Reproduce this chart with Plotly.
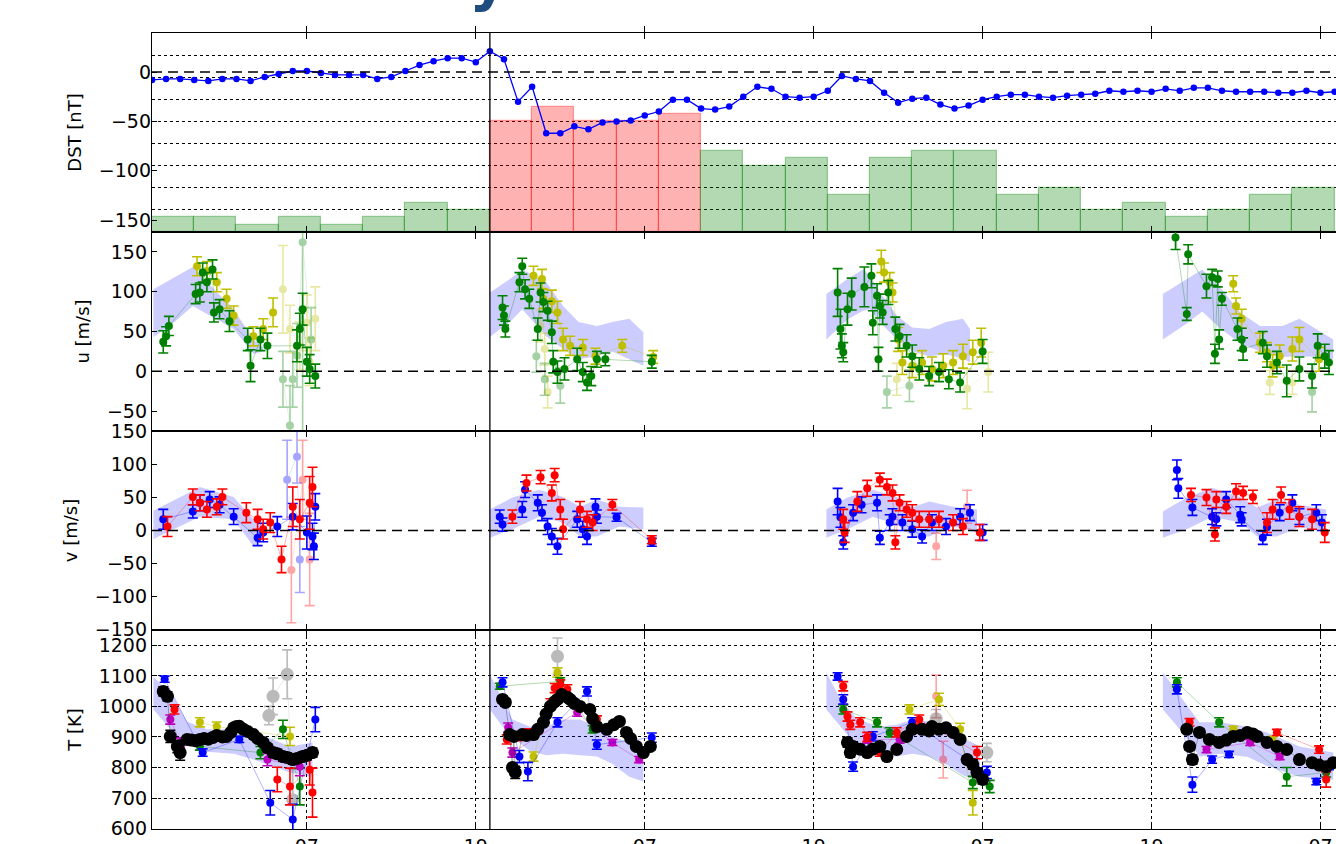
import plotly.graph_objects as go
from plotly.subplots import make_subplots

# ---------------------------------------------------------------- data
# time axis: hours counted from 00:00 of the first day
HOUR_TICKS = [31, 43, 55, 67, 79, 91, 103]
HOUR_LABELS = ["07", "19", "07", "19", "07", "19", "07"]
STORM_ONSET = 44

# hourly Dst index
DST_T = list(range(20, 105))
DST = [-8, -7, -7, -8, -9, -7, -7, -9, -5, -2, 1, 1, -1, -3, -3, -3, -7, -5, 1, 7, 11, 14, 14, 10,
       21, 13, -30, -15, -62, -62, -55, -58, -51, -50, -49, -44, -40, -28, -28, -37, -38, -35, -25,
       -15, -17, -25, -26, -25, -19, -4, -7, -9, -21, -31,
       -27, -26, -33, -37, -34, -28, -25, -23, -23, -25, -26, -24, -23, -22, -19, -20, -19, -20, -17,
       -19, -16, -16, -19, -20, -20, -20, -21, -21, -19, -21, -20]

# 3-hourly Kp index (bins start at these hours)
KP_START = list(range(20, 104, 3))
KP = [0.67, 0.67, 0.33, 0.67, 0.33, 0.67, 1.33, 1.0, 5.0, 5.67, 5.0, 5.0, 5.33, 3.67, 3.0, 3.33,
      1.67, 3.33, 3.67, 3.67, 1.67, 2.0, 1.0, 1.33, 0.67, 1.0, 1.67, 2.0]

# model envelopes (lower / upper) per night
U_BAND_T = [20.1, 21.6, 22.9, 24.3, 25.8, 27.2, 27.9,
            44.0, 45.6, 46.3, 48.0, 49.2, 50.3, 51.6, 52.7, 53.9, 54.9,
            67.9, 69.4, 70.5, 71.0, 71.7, 72.9, 74.0, 75.2, 76.4, 77.6, 78.1,
            91.8, 93.5, 94.6, 95.8, 97.3, 98.7, 100.3, 101.5, 102.7, 103.9]
U_BAND_HI = [103, 118, 131, 105, 78, 40, 30,
             99, 118, 128, 112, 82, 62, 57, 62, 66, 49,
             97, 116, 128, 120, 99, 70, 55, 53, 62, 66, 53,
             97, 116, 128, 107, 74, 57, 57, 66, 53, 40]
U_BAND_LO = [43, 62, 82, 68, 53, 22, 25,
             43, 65, 78, 44, 28, 15, 19, 25, 15, 7,
             40, 65, 76, 78, 62, 40, 25, 19, 21, 16, 11,
             40, 60, 75, 55, 35, 25, 18, 19, 18, 15]

V_BAND_T = [20.1, 21.5, 23.4, 25.8, 27.2, 27.9,
            44.0, 45.6, 47.5, 49.2, 50.4, 51.6, 53.2, 54.9,
            67.9, 69.4, 71.2, 72.9, 74.0, 75.2, 76.9, 78.6,
            91.8, 93.5, 95.3, 97.3, 98.5, 99.9, 101.5, 103.4]
V_BAND_HI = [30, 45, 66, 51, 17, 8,
             32, 50, 62, 51, 36, 47, 36, 35,
             32, 50, 62, 51, 35, 44, 36, 32,
             29, 50, 65, 51, 35, 47, 39, 32]
V_BAND_LO = [-13, 2, 21, 17, -24, -8,
             -11, 2, 21, 12, -9, -9, 6, 2,
             -11, 2, 21, 9, -9, -9, 6, -3,
             -11, 2, 21, 12, -9, -9, 5, -3]

T_BAND_T = [20.1, 21.5, 22.5, 23.9, 25.8, 27.2, 28.6, 29.8, 31.4,
            44.0, 44.9, 45.6, 46.8, 48.0, 49.2, 50.4, 51.6, 52.7, 53.9, 54.9,
            67.9, 68.9, 70.1, 71.7, 72.9, 74.0, 75.2, 76.4, 77.6, 78.8,
            91.8, 93.2, 94.4, 95.8, 97.8, 99.2, 101.5, 103.9]
T_BAND_HI = [1098, 1030, 950, 925, 925, 915, 892, 869, 882,
             1105, 1023, 957, 934, 934, 957, 957, 934, 902, 882, 869,
             1111, 1023, 957, 934, 940, 957, 950, 925, 895, 870,
             1111, 1023, 948, 948, 934, 915, 869, 849]
T_BAND_LO = [990, 915, 875, 852, 845, 826, 803, 784, 770,
             990, 934, 900, 855, 840, 845, 840, 836, 812, 770, 754,
             990, 934, 869, 849, 836, 845, 836, 810, 775, 754,
             990, 915, 835, 845, 835, 805, 770, 760]

# zonal wind u, two look directions
U_GREEN_T = [20.8, 21.0, 21.2, 23.1, 23.4, 23.6, 23.9, 24.3, 24.4, 24.8, 25.5, 26.8, 27.0, 27.7, 28.2,
             30.3, 30.5, 30.7, 31.0, 31.2, 31.6,
             44.9, 45.0, 45.1, 46.1, 46.3, 46.5, 46.8, 47.4, 47.6, 47.8, 48.1, 48.4, 48.5, 48.8, 49.3,
             50.2, 50.6, 50.9, 51.2, 51.6, 52.2, 55.5,
             68.7, 68.9, 69.0, 69.1, 69.4, 69.7, 70.6, 71.1, 71.2, 71.5, 71.6, 71.7, 71.9, 72.3, 72.8,
             73.1, 73.6, 74.0, 74.5, 75.2, 75.9, 76.6, 77.4, 79.0,
             92.7, 93.5, 93.6, 94.9, 95.3, 95.5, 95.7, 95.8, 96.0, 97.1, 97.4, 97.5, 98.9, 99.2, 99.9,
             100.6, 101.5, 102.4, 102.8, 103.3, 103.6]
U_GREEN = [37, 44, 57, 97, 99, 124, 112, 128, 74, 78, 63, 40, 7, 40, 32, 32, 53, 78, 12, 3, -6,
           80, 70, 53, 112, 132, 103, 91, 53, 99, 87, 76, 49, 12, -1, 3, 15, -1, -14, -6, 15, 15, 12,
           99, 53, 32, 24, 78, 97, 106, 120, 61, 95, 15, 82, 74, 99, 53, 44, 32, 19, 3, -6, -1, -10,
           -14, 25,
           168, 72, 147, 107, 118, 22, 116, 40, 91, 53, 40, 28, 36, 19, 11, -12, 3, -6, 32, 19, 11]
U_GREEN_ERR = [14, 12, 12, 12, 12, 12, 12, 12, 12, 12, 13, 14, 20, 14, 16, 20, 20, 20, 18, 18, 15,
               15, 12, 10, 12, 10, 12, 12, 14, 12, 12, 12, 14, 14, 14, 14, 14, 12, 10, 12, 10, 8, 8,
               30, 25, 15, 12, 20, 20, 25, 15, 15, 15, 15, 15, 15, 15, 15, 15, 14, 14, 14, 12, 12, 12,
               12, 15,
               15, 8, 12, 15, 10, 12, 10, 12, 8, 14, 14, 14, 14, 14, 14, 20, 15, 15, 15, 15, 15]
U_GREEN_FAINT_T = [29.3, 29.8, 30.0, 30.3, 30.7, 31.3, 47.3, 47.9, 49.0, 72.2, 73.8, 102.4]
U_GREEN_FAINT = [-10, -68, -10, 20, 162, 40, 19, -10, -18, -26, -18, -26]
U_GREEN_FAINT_ERR = [35, 50, 35, 40, 240, 40, 20, 20, 22, 20, 20, 25]

U_YELLOW_T = [23.2, 23.9, 24.6, 25.3, 25.8, 27.2, 27.9, 28.6,
              47.1, 47.7, 47.8, 48.4, 48.8, 49.2, 49.7, 50.6, 51.5, 53.4, 55.6,
              71.8, 72.0, 72.4, 72.6, 73.0, 73.3, 74.0, 74.7, 75.4, 76.2, 76.9, 77.6, 78.3, 78.9,
              96.8, 97.0, 97.4, 98.7, 99.2, 99.6, 100.1, 101.0, 101.5, 102.9]
U_YELLOW = [132, 126, 112, 91, 70, 44, 53, 74,
            120, 116, 91, 88, 74, 40, 32, 30, 19, 32, 18,
            138, 124, 112, 99, 40, 11, 7, 11, 3, 7, 11, 19, 24, 36,
            110, 82, 66, 36, 24, 7, 19, 28, 40, 15]
U_YELLOW_ERR = [12, 12, 12, 12, 12, 12, 13, 18,
                12, 12, 12, 14, 14, 14, 12, 10, 10, 8, 8,
                14, 12, 12, 12, 15, 15, 15, 15, 15, 15, 15, 15, 15, 18,
                10, 10, 12, 12, 12, 14, 14, 15, 15, 15]
U_YELLOW_FAINT_T = [29.3, 29.8, 30.5, 31.0, 31.2, 31.6, 47.6, 47.9, 48.1, 72.9, 77.9, 79.4, 99.4, 101.0]
U_YELLOW_FAINT = [103, 53, 32, 61, 12, 66, 57, 28, -26, -10, -22, -1, -14, -14]
U_YELLOW_FAINT_ERR = [55, 30, 30, 35, 30, 40, 20, 20, 20, 20, 25, 25, 15, 15]

# meridional wind v, two look directions
V_BLUE_T = [20.8, 22.9, 23.4, 24.1, 24.8, 25.8, 27.5, 27.9, 28.9, 30.0, 31.0, 31.4, 31.5, 31.6,
            44.7, 44.9, 46.3, 46.5, 47.4, 47.7, 48.1, 48.4, 48.8, 50.2, 50.6, 50.9, 51.5, 51.6, 53.0, 55.5,
            68.7, 68.9, 69.1, 69.8, 70.4, 71.5, 71.7, 72.4, 72.6, 73.3, 74.0, 74.7, 75.4, 76.4, 77.4, 78.1,
            79.0,
            92.8, 92.9, 93.9, 95.3, 95.6, 96.3, 97.3, 97.4, 98.9, 99.2, 100.1, 101.0, 101.5, 102.7, 103.1]
V_BLUE = [17, 29, 42, 47, 39, 21, -11, -3, 6, 21, -3, -9, -24, 36,
          21, 9, 32, 62, 42, 27, 6, -9, -24, 17, 2, -9, 36, 21, 20, -18,
          44, 20, -18, 27, 39, 42, -11, 12, 21, 12, 2, -9, 12, 6, 21, 27, -3,
          92, 64, 35, 21, 17, 47, 24, 17, -11, 5, 27, 42, 21, 27, 12]
V_BLUE_ERR = [15, 10, 12, 12, 12, 12, 12, 14, 15, 20, 25, 20, 20, 20,
              10, 10, 12, 12, 12, 12, 12, 12, 12, 12, 12, 12, 12, 10, 6, 6,
              20, 15, 10, 12, 12, 12, 10, 12, 12, 12, 12, 10, 12, 12, 12, 12, 12,
              15, 15, 12, 12, 10, 12, 12, 10, 10, 12, 12, 12, 12, 12, 12]
V_BLUE_FAINT_T = [29.6, 30.3, 30.5]
V_BLUE_FAINT = [77, 112, -44]
V_BLUE_FAINT_ERR = [60, 40, 50]

V_RED_T = [21.1, 22.9, 23.4, 23.9, 24.6, 25.0, 26.7, 27.5, 27.9, 28.4, 29.2, 30.0, 30.5, 31.2, 31.4,
           45.6, 46.6, 47.6, 48.4, 48.6, 49.0, 49.2, 50.4, 50.9, 51.3, 52.7, 55.5,
           69.1, 69.2, 70.1, 70.8, 71.7, 72.2, 72.6, 72.8, 73.1, 73.6, 74.0, 74.5, 75.2, 75.9, 76.9, 77.6,
           78.8,
           93.8, 94.9, 95.5, 95.6, 96.3, 97.0, 97.5, 98.2, 99.2, 99.6, 100.2, 100.8, 101.5, 102.4, 103.3]
V_RED = [6, 51, 42, 32, 36, 51, 27, 17, 2, 12, -44, 36, 17, 42, 66,
         21, 72, 81, 57, 84, 32, 2, 32, 17, 12, 39, -14,
         17, -3, 44, 64, 77, 66, 57, -18, 42, 32, 27, 17, 17, 17, 12, 6, -3,
         54, 50, -6, 47, 36, 59, 57, 51, 12, 32, 54, 32, 21, 17, -3]
V_RED_ERR = [15, 12, 12, 12, 12, 12, 15, 15, 15, 15, 20, 30, 30, 40, 30,
             10, 12, 10, 12, 10, 15, 15, 12, 12, 12, 8, 6,
             15, 15, 15, 12, 10, 12, 12, 10, 12, 12, 12, 12, 12, 12, 12, 12, 12,
             10, 12, 10, 12, 10, 12, 10, 10, 15, 15, 12, 15, 15, 15, 15]
V_RED_FAINT_T = [29.9, 30.7, 31.2, 75.7, 77.9]
V_RED_FAINT = [-60, 77, -44, -24, 36]
V_RED_FAINT_ERR = [80, 60, 70, 20, 25]

# neutral temperature, several look directions
T_BLACK_T = [20.8, 21.1, 21.3, 21.8, 22.0, 22.5, 22.8, 23.1, 23.4, 23.7, 24.0, 24.3, 24.6, 25.0, 25.3,
             25.6, 25.8, 26.0, 26.2, 26.5, 26.8, 27.2, 27.5, 27.9, 28.2, 28.6, 28.9, 29.3, 29.6, 30.0,
             30.3, 30.7, 31.0, 31.4,
             44.9, 45.1, 45.4, 45.6, 45.7, 45.8, 46.3, 46.6, 47.1, 47.4, 47.8, 48.0, 48.3, 48.6, 48.8,
             49.1, 49.5, 49.7, 50.0, 50.4, 51.1, 51.3, 51.6, 52.3, 52.8, 53.2, 53.7, 54.0, 54.4, 54.9, 55.4,
             69.4, 69.6, 69.8, 70.3, 70.8, 71.2, 71.7, 72.2, 72.9, 73.6, 74.0, 74.7, 75.2, 75.4, 75.9,
             76.4, 76.9, 77.4, 77.9, 78.3, 78.6, 79.0,
             93.5, 93.7, 93.9, 94.4, 95.1, 95.8, 96.3, 96.8, 97.3, 97.8, 98.2, 98.5, 99.2, 99.9, 100.6,
             101.5, 102.4, 102.9, 103.4, 103.9]
T_BLACK = [1049, 1033, 902, 869, 849, 892, 890, 888, 892, 895, 893, 898, 905, 900, 902,
           915, 930, 934, 935, 925, 918, 908, 895, 882, 865, 849, 845, 836, 833, 826,
           830, 836, 840, 849,
           1023, 1013, 908, 800, 902, 784, 908, 905, 908, 925, 948, 975, 1000, 1015, 1023,
           1039, 1030, 1023, 1010, 1000, 990, 960, 934, 925, 940, 951, 915, 895, 869, 849, 869,
           882, 849, 869, 860, 849, 860, 869, 836, 859, 902, 925, 925, 920, 934, 925,
           930, 915, 892, 826, 810, 784, 761,
           925, 869, 826, 915, 892, 882, 890, 902, 905, 915, 910, 902, 882, 869, 859,
           826, 816, 808, 803, 816]
T_BLACK_ERR = [15, 15, 20, 20, 25, 10, 10, 10, 10, 10, 10, 10, 10, 10, 10,
               10, 10, 10, 10, 10, 10, 10, 10, 10, 12, 15, 15, 15, 15, 15,
               15, 15, 15, 15,
               12, 12, 10, 10, 10, 20, 10, 10, 10, 10, 10, 10, 10, 10, 10,
               10, 10, 10, 10, 10, 10, 10, 10, 10, 10, 10, 10, 10, 10, 10, 12,
               15, 15, 15, 12, 12, 12, 12, 12, 12, 10, 10, 10, 10, 10, 10,
               10, 10, 12, 12, 15, 15, 15,
               12, 12, 15, 12, 10, 10, 10, 10, 10, 10, 10, 10, 10, 10, 10,
               10, 10, 10, 10, 12]
T_GREY_T = [28.3, 28.6, 29.6, 30.0, 48.8, 75.7, 79.3]
T_GREY = [970, 1033, 1105, 695, 1164, 960, 849]
T_GREY_ERR = [30, 60, 80, 100, 60, 30, 30]

T_BLUE_T = [20.9, 23.6, 26.2, 28.4, 30.0, 31.6, 44.9, 46.1, 46.7, 48.8, 50.9, 51.6, 55.5,
            68.7, 69.1, 69.8, 71.2, 74.0, 79.3, 92.8, 93.9, 95.3, 96.5, 102.7, 103.6]
T_BLUE = [1089, 849, 892, 685, 630, 957, 1079, 836, 787, 948, 1049, 875, 898,
          1098, 1023, 803, 902, 948, 784, 1056, 744, 826, 843, 754, 803]
T_BLUE_ERR = [10, 12, 10, 40, 50, 40, 15, 20, 30, 15, 15, 15, 15,
              12, 15, 15, 15, 15, 20, 15, 25, 12, 10, 10, 10]

T_RED_T = [21.6, 28.9, 29.8, 31.2, 31.4, 45.2, 46.0, 46.8, 47.9, 48.3, 48.6, 49.0, 49.5, 50.4, 51.6,
           69.1, 69.4, 69.6, 70.3, 70.8, 71.7, 72.9, 74.5, 78.6, 93.7, 99.9, 102.9, 103.4]
T_RED = [990, 761, 738, 793, 718, 892, 900, 915, 960, 1010, 1060, 1072, 1056, 1000, 957,
         1066, 967, 940, 948, 900, 849, 915, 957, 849, 948, 915, 859, 761]
T_RED_ERR = [15, 40, 60, 50, 80, 15, 12, 12, 15, 15, 15, 15, 15, 12, 12,
             15, 15, 15, 15, 15, 12, 15, 15, 20, 12, 10, 12, 25]
T_RED_FAINT_T = [75.7, 76.2]
T_RED_FAINT = [1033, 826]
T_RED_FAINT_ERR = [70, 60]

T_GREEN_T = [23.4, 27.7, 29.3, 30.5, 44.7, 49.0, 51.3, 69.1, 71.5, 72.4, 78.3, 79.5, 92.8, 95.8, 100.6, 103.4]
T_GREEN = [869, 849, 925, 738, 1066, 1082, 925, 990, 948, 915, 751, 738, 1079, 948, 770, 784]
T_GREEN_ERR = [12, 20, 30, 60, 10, 12, 12, 15, 15, 15, 20, 20, 15, 15, 30, 15]

T_MAGENTA_T = [21.3, 22.0, 28.2, 30.5, 45.3, 45.6, 50.2, 52.7, 54.6, 70.8, 73.1, 75.2, 94.9, 98.0, 100.1]
T_MAGENTA = [957, 882, 826, 803, 931, 849, 980, 882, 826, 892, 892, 925, 859, 882, 836]
T_MAGENTA_ERR = [15, 15, 20, 30, 15, 15, 12, 10, 10, 12, 12, 12, 10, 10, 10]

T_YELLOW_T = [23.4, 24.6, 29.8, 47.1, 48.8, 73.8, 75.9, 77.4, 78.3, 96.8, 99.6]
T_YELLOW = [948, 934, 902, 836, 1111, 990, 1023, 925, 685, 925, 892]
T_YELLOW_ERR = [15, 15, 30, 15, 15, 15, 20, 20, 40, 10, 10]

# ---------------------------------------------------------------- styling
GREEN = (0, 128, 0)
YELLOW = (191, 191, 0)
BLUE = (0, 0, 255)
RED = (255, 0, 0)
MAGENTA = (191, 0, 191)
BLACK = (0, 0, 0)
GREY = (60, 60, 60)
FONT = "DejaVu Sans"
NIGHT_GAP = 6  # hours without samples that separate two nights
SMALL, BIG = 8, 13


def rgba(c, a=1.0):
    return f"rgba({c[0]},{c[1]},{c[2]},{a})"


def night_slices(t):
    bounds = [0] + [i for i in range(1, len(t)) if t[i] - t[i - 1] > NIGHT_GAP] + [len(t)]
    return [slice(a, b) for a, b in zip(bounds[:-1], bounds[1:])]


fig = make_subplots(rows=4, cols=1, shared_xaxes=True, vertical_spacing=0,
                    specs=[[{"secondary_y": True}], [{}], [{}], [{}]])


def add_band(row, t, lo, hi):
    for s in night_slices(t):
        tt, ll, hh = t[s], lo[s], hi[s]
        fig.add_trace(go.Scatter(x=tt + tt[::-1], y=hh + ll[::-1], fill="toself",
                                 fillcolor="rgba(0,0,255,0.2)", line=dict(width=0),
                                 mode="lines", hoverinfo="skip", showlegend=False),
                      row=row, col=1)


def add_points(row, t, y, err, color, size, faint=False):
    xs, ys, es = [], [], []
    for i in range(len(t)):
        if i and t[i] - t[i - 1] > NIGHT_GAP:
            xs.append(None); ys.append(None); es.append(0)
        xs.append(t[i]); ys.append(y[i]); es.append(err[i])
    fig.add_trace(go.Scatter(
        x=xs, y=ys, mode="lines+markers", connectgaps=False,
        line=dict(color=rgba(color, 0.3), width=1),
        marker=dict(color=rgba(color), size=size, line=dict(width=0)),
        error_y=dict(type="data", array=es, color=rgba(color), thickness=1.6, width=5),
        opacity=0.35 if faint else 1.0, hoverinfo="skip", showlegend=False),
        row=row, col=1)


# ---- panel 1: Kp bars + Dst
kp_colors = [rgba(RED, 0.3) if k >= 5 else rgba(GREEN, 0.3) for k in KP]
kp_edges = [rgba(RED, 0.35) if k >= 5 else rgba(GREEN, 0.35) for k in KP]
fig.add_trace(go.Bar(x=[s + 1.5 for s in KP_START], y=KP, width=3,
                     marker=dict(color=kp_colors, line=dict(color=kp_edges, width=1.2)),
                     hoverinfo="skip", showlegend=False),
              row=1, col=1, secondary_y=False)
fig.add_trace(go.Scatter(x=DST_T, y=DST, mode="lines+markers",
                         line=dict(color=rgba(BLUE), width=1.3),
                         marker=dict(color=rgba(BLUE), size=6.5),
                         hoverinfo="skip", showlegend=False),
              row=1, col=1, secondary_y=True)

# ---- panel 2: u
add_band(2, U_BAND_T, U_BAND_LO, U_BAND_HI)
add_points(2, U_YELLOW_FAINT_T, U_YELLOW_FAINT, U_YELLOW_FAINT_ERR, YELLOW, SMALL, faint=True)
add_points(2, U_GREEN_FAINT_T, U_GREEN_FAINT, U_GREEN_FAINT_ERR, GREEN, SMALL, faint=True)
add_points(2, U_YELLOW_T, U_YELLOW, U_YELLOW_ERR, YELLOW, SMALL)
add_points(2, U_GREEN_T, U_GREEN, U_GREEN_ERR, GREEN, SMALL)

# ---- panel 3: v
add_band(3, V_BAND_T, V_BAND_LO, V_BAND_HI)
add_points(3, V_BLUE_FAINT_T, V_BLUE_FAINT, V_BLUE_FAINT_ERR, BLUE, SMALL, faint=True)
add_points(3, V_RED_FAINT_T, V_RED_FAINT, V_RED_FAINT_ERR, RED, SMALL, faint=True)
add_points(3, V_BLUE_T, V_BLUE, V_BLUE_ERR, BLUE, SMALL)
add_points(3, V_RED_T, V_RED, V_RED_ERR, RED, SMALL)

# ---- panel 4: T
add_band(4, T_BAND_T, T_BAND_LO, T_BAND_HI)
add_points(4, T_RED_FAINT_T, T_RED_FAINT, T_RED_FAINT_ERR, RED, SMALL, faint=True)
add_points(4, T_GREY_T, T_GREY, T_GREY_ERR, GREY, BIG, faint=True)
add_points(4, T_YELLOW_T, T_YELLOW, T_YELLOW_ERR, YELLOW, SMALL)
add_points(4, T_GREEN_T, T_GREEN, T_GREEN_ERR, GREEN, SMALL)
add_points(4, T_MAGENTA_T, T_MAGENTA, T_MAGENTA_ERR, MAGENTA, SMALL)
add_points(4, T_BLUE_T, T_BLUE, T_BLUE_ERR, BLUE, SMALL)
add_points(4, T_RED_T, T_RED, T_RED_ERR, RED, SMALL)
add_points(4, T_BLACK_T, T_BLACK, T_BLACK_ERR, BLACK, BIG)

# ---------------------------------------------------------------- axes
fig.update_xaxes(domain=[0, 1], range=[20, 104.1], tickvals=HOUR_TICKS, ticktext=HOUR_LABELS,
                 ticks="inside", ticklen=6, tickwidth=1.3, tickcolor="black",
                 showline=True, linecolor="black", linewidth=1.3, mirror="allticks",
                 showgrid=False, zeroline=False, tickfont=dict(size=19), automargin=False)
fig.update_xaxes(showgrid=True, gridcolor="black", griddash="dot", gridwidth=1.3, row=4, col=1)

common_y = dict(ticks="inside", ticklen=5, tickwidth=1.3, tickcolor="black",
                linecolor="black", linewidth=1.3, mirror=False, automargin=False,
                zeroline=False, tickfont=dict(size=19), title_font=dict(size=18),
                title_standoff=12)

fig.update_yaxes(range=[0, 9], tickvals=list(range(1, 9)), showticklabels=False, ticks="",
                 showgrid=True, gridcolor="black", griddash="dot", gridwidth=1.3,
                 showline=True, linecolor="black", linewidth=1.3, zeroline=False,
                 automargin=False, row=1, col=1, secondary_y=False)
fig.update_yaxes(range=[-162, 39.5], tickvals=[0, -50, -100, -150],
                 ticktext=["0", "\u221250", "\u2212100", "\u2212150"], showgrid=False,
                 side="left", title_text="DST [nT]", showline=False,
                 row=1, col=1, secondary_y=True, **common_y)
fig.update_yaxes(range=[-75, 175], tickvals=[-50, 0, 50, 100, 150],
                 ticktext=["\u221250", "0", "50", "100", "150"], showgrid=False, showline=True,
                 title_text="u [m/s]", row=2, col=1, **common_y)
fig.update_yaxes(range=[-151, 151], tickvals=[-150, -100, -50, 0, 50, 100, 150],
                 ticktext=["\u2212150", "\u2212100", "\u221250", "0", "50", "100", "150"],
                 showgrid=False, showline=True, title_text="v [m/s]", row=3, col=1, **common_y)
fig.update_yaxes(range=[599, 1250], tickvals=[600, 700, 800, 900, 1000, 1100, 1200],
                 showgrid=True, gridcolor="black", griddash="dot", gridwidth=1.3, showline=True,
                 title_text="T [K]", row=4, col=1, **common_y)

# reference lines
dash = dict(color="black", width=1.5, dash="10px,6px")
fig.add_hline(y=0, line=dash, layer="above", row=1, col=1, secondary_y=True)
fig.add_hline(y=0, line=dash, layer="above", row=2, col=1)
fig.add_hline(y=0, line=dash, layer="above", row=3, col=1)
fig.add_shape(type="line", xref="x", yref="paper", x0=STORM_ONSET, x1=STORM_ONSET, y0=0, y1=1,
              line=dict(color="black", width=1.3), layer="above")

fig.add_annotation(text="<b>y</b>", xref="paper", yref="paper", x=0.284, y=1.022,
                   xanchor="center", yanchor="bottom", showarrow=False,
                   font=dict(size=60, color="#1f4d80", family=FONT))

fig.update_layout(width=1336, height=844, margin=dict(l=152, r=0, t=33, b=15),
                  plot_bgcolor="white", paper_bgcolor="white", showlegend=False,
                  font=dict(family=FONT, size=19, color="black"), bargap=0)

fig.write_html("out.html")
